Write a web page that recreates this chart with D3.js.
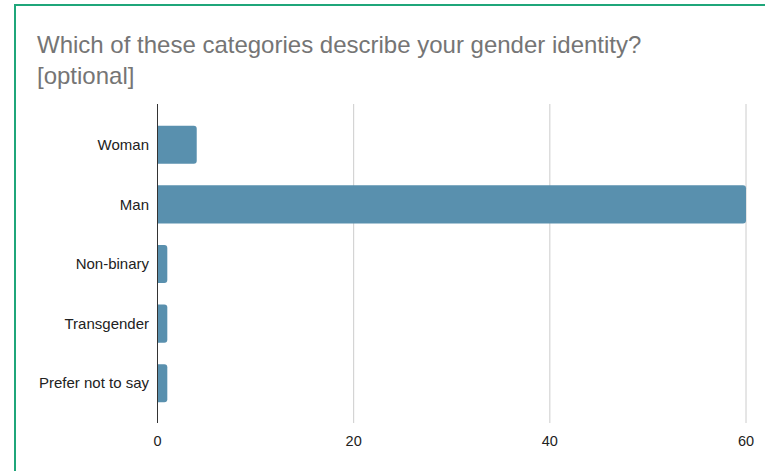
<!DOCTYPE html>
<html>
<head>
<meta charset="utf-8">
<script src="https://cdn.jsdelivr.net/npm/d3@7"></script>
<style>
  body { margin: 0; background: #fff; }
  svg { display: block; font-family: "Liberation Sans", Arial, sans-serif; }
</style>
</head>
<body>
<svg id="chart" width="765" height="471"></svg>
<script>
const categories = ["Woman", "Man", "Non-binary", "Transgender", "Prefer not to say"];
const counts = [4, 60, 1, 1, 1];
const ticks = [0, 20, 40, 60];
const titleLines = ["Which of these categories describe your gender identity?", "[optional]"];

const svg = d3.select("#chart");

// green frame, runs off the right and bottom edges
svg.append("rect")
  .attr("x", 15).attr("y", 5)
  .attr("width", 800).attr("height", 500)
  .attr("fill", "none")
  .attr("stroke", "#1fa67a")
  .attr("stroke-width", 2);

svg.selectAll("text.title")
  .data(titleLines)
  .join("text")
  .attr("class", "title")
  .attr("x", 37)
  .attr("y", (d, i) => 53 + i * 31)
  .attr("fill", "#757575")
  .attr("font-size", 24)
  .text(d => d);

const x = d3.scaleLinear().domain([0, 60]).range([157.5, 746]);
const y = d3.scaleBand().domain(categories).range([115, 413])
  .paddingInner(0.36).paddingOuter(0.18);

// gridlines
svg.selectAll("line.grid")
  .data(ticks.filter(t => t > 0))
  .join("line")
  .attr("class", "grid")
  .attr("x1", d => x(d)).attr("x2", d => x(d))
  .attr("y1", 104).attr("y2", 423)
  .attr("stroke", "#cccccc")
  .attr("stroke-width", 1);

// bars with rounded right end
const r = 3;
svg.selectAll("path.bar")
  .data(categories.map((c, i) => ({ c, v: counts[i] })))
  .join("path")
  .attr("class", "bar")
  .attr("fill", "#5990ae")
  .attr("d", d => {
    const x0 = x(0), x1 = x(d.v), y0 = y(d.c), h = y.bandwidth();
    const rr = Math.min(r, (x1 - x0) / 2);
    return `M${x0},${y0}H${x1 - rr}Q${x1},${y0} ${x1},${y0 + rr}V${y0 + h - rr}Q${x1},${y0 + h} ${x1 - rr},${y0 + h}H${x0}Z`;
  });

// baseline axis
svg.append("line")
  .attr("x1", x(0)).attr("x2", x(0))
  .attr("y1", 104).attr("y2", 423)
  .attr("stroke", "#333")
  .attr("stroke-width", 1);

// category labels
svg.selectAll("text.cat")
  .data(categories)
  .join("text")
  .attr("class", "cat")
  .attr("x", 149)
  .attr("y", d => y(d) + y.bandwidth() / 2)
  .attr("dy", "0.35em")
  .attr("text-anchor", "end")
  .attr("font-size", 15)
  .attr("fill", "#222")
  .text(d => d);

// tick labels
svg.selectAll("text.tick")
  .data(ticks)
  .join("text")
  .attr("class", "tick")
  .attr("x", d => x(d))
  .attr("y", 446)
  .attr("text-anchor", "middle")
  .attr("font-size", 14.5)
  .attr("fill", "#222")
  .text(d => d);
</script>
</body>
</html>
